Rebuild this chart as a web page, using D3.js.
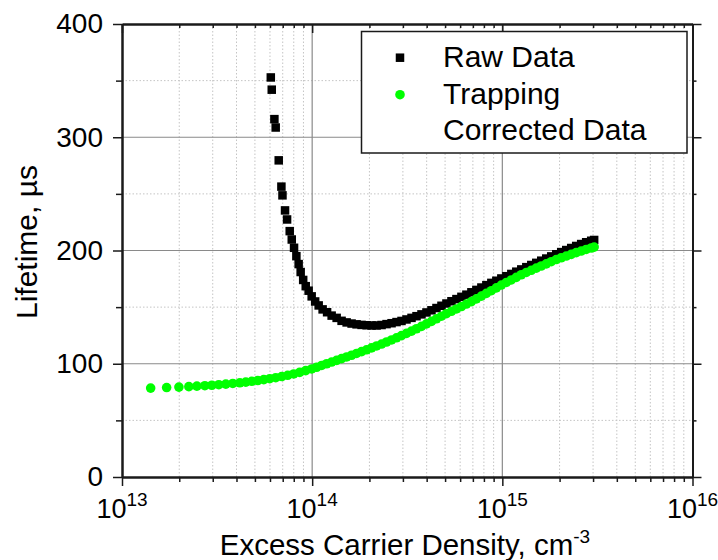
<!DOCTYPE html>
<html>
<head>
<meta charset="utf-8">
<script src="https://cdn.jsdelivr.net/npm/d3@7"></script>
<style>
  body { margin: 0; background: #fff; }
  text { font-family: "Liberation Sans", Arial, sans-serif; fill: #000; }
</style>
</head>
<body>
<script>
// raw lifetime data (black squares)
const rawDensity = [6.06e13, 6.13e13, 6.33e13, 6.43e13, 6.67e13, 6.89e13, 6.98e13, 7.20e13, 7.38e13, 7.62e13,
  7.81e13, 8.03e13, 8.26e13, 8.49e13, 8.70e13, 8.97e13, 9.25e13, 9.58e13, 9.94e13, 1.037e14,
  1.082e14, 1.135e14, 1.198e14, 1.266e14, 1.345e14, 1.428e14, 1.518e14, 1.612e14, 1.712e14, 1.819e14,
  1.933e14, 2.053e14, 2.181e14, 2.317e14, 2.461e14, 2.615e14, 2.777e14, 2.950e14, 3.134e14, 3.330e14,
  3.537e14, 3.757e14, 3.990e14, 4.240e14, 4.504e14, 4.785e14, 5.082e14, 5.400e14, 5.736e14, 6.093e14,
  6.471e14, 6.876e14, 7.303e14, 7.759e14, 8.241e14, 8.755e14, 9.301e14, 9.88e14, 1.050e15, 1.115e15,
  1.184e15, 1.258e15, 1.337e15, 1.420e15, 1.508e15, 1.602e15, 1.702e15, 1.808e15, 1.921e15, 2.040e15,
  2.168e15, 2.303e15, 2.446e15, 2.598e15, 2.760e15, 2.933e15, 3.04e15];
const rawLifetime = [352.8, 342, 316, 308.6, 279.6, 256.4, 248.7, 235.4, 227.4, 217.1,
  209.7, 202.4, 195, 188, 181, 174, 168.5, 164.5, 159.5, 155,
  151.5, 148, 145.5, 142.5, 140.5, 137.9, 136.5, 135.5, 134.8, 134.3,
  134, 133.8, 133.8, 134.2, 135, 135.8, 136.8, 137.8, 139.1, 140.5,
  142, 143.6, 145.3, 147.2, 149.2, 151.2, 153.2, 155.2, 157.1, 159.1,
  161, 163.1, 165.2, 167.3, 169.4, 171.4, 173.3, 175.3, 177.3, 179.3,
  181.3, 183.3, 185.3, 187.2, 189.1, 191, 192.9, 194.8, 196.7, 198.6,
  200.4, 202.2, 204, 205.7, 207.3, 208.6, 209.3];

// trapping corrected data (green circles)
const corrDensity = [1.415e13, 1.717e13, 1.992e13, 2.247e13, 2.476e13, 2.727e13, 2.968e13, 3.229e13, 3.515e13, 3.825e13,
  4.163e13, 4.476e13, 4.812e13, 5.176e13, 5.566e13, 5.983e13, 6.434e13, 6.918e13, 7.437e13, 7.996e13,
  8.596e13, 9.244e13, 9.94e13, 1.056e14, 1.122e14, 1.192e14, 1.266e14, 1.345e14, 1.428e14, 1.518e14,
  1.612e14, 1.712e14, 1.819e14, 1.933e14, 2.053e14, 2.181e14, 2.317e14, 2.461e14, 2.615e14, 2.777e14,
  2.950e14, 3.134e14, 3.330e14, 3.537e14, 3.757e14, 3.990e14, 4.240e14, 4.504e14, 4.785e14, 5.082e14,
  5.400e14, 5.736e14, 6.093e14, 6.471e14, 6.876e14, 7.303e14, 7.759e14, 8.241e14, 8.755e14, 9.301e14,
  9.88e14, 1.050e15, 1.115e15, 1.184e15, 1.258e15, 1.337e15, 1.420e15, 1.508e15, 1.602e15, 1.702e15,
  1.808e15, 1.921e15, 2.040e15, 2.168e15, 2.303e15, 2.446e15, 2.598e15, 2.760e15, 2.933e15, 3.04e15];
const corrLifetime = [78.5, 79, 79.4, 79.8, 80.2, 80.6, 81, 81.5, 82, 82.6,
  83.2, 83.8, 84.5, 85.2, 86, 86.8, 87.7, 88.7, 89.8, 91,
  92.4, 93.9, 95.4, 96.9, 98.5, 100, 101.5, 103, 104.5, 106,
  107.5, 109.1, 110.7, 112.3, 114, 115.7, 117.4, 119.2, 121, 122.9,
  124.8, 126.8, 128.8, 130.9, 133, 135.2, 137.4, 139.7, 142, 144.2,
  146.3, 148.4, 150.5, 152.7, 154.9, 157.3, 159.7, 162.1, 164.5, 167,
  169.5, 171.8, 174, 176.3, 178.6, 180.6, 182.5, 184.4, 186.3, 188.2,
  190.1, 192, 193.6, 195.1, 196.6, 198.1, 199.5, 200.9, 202.2, 203];

const yTicks = [0, 100, 200, 300, 400];
const yMinorTicks = [50, 150, 250, 350];
const xTickExps = [13, 14, 15, 16];
const legendLabels = ["Raw Data", "Trapping", "Corrected Data"];

const width = 718, height = 560;
const plotL = 122, plotR = 692.5, plotT = 24, plotB = 477;

const svg = d3.select('body').append('svg')
  .attr('width', width)
  .attr('height', height);

const x = d3.scaleLog().domain([1e13, 1e16]).range([plotL, plotR]);
const y = d3.scaleLinear().domain([0, 400]).range([plotB, plotT]);

const xMajor = xTickExps.map(e => Math.pow(10, e));
const xMinor = x.ticks().filter(d => !xMajor.some(m => Math.abs(m - d) / m < 1e-6));

// grid: minor dotted, major solid
const grid = svg.append('g');
grid.selectAll('.vminor').data(xMinor).join('line')
  .attr('x1', d => x(d)).attr('x2', d => x(d))
  .attr('y1', plotT).attr('y2', plotB)
  .attr('stroke', '#c4c4c4').attr('stroke-width', 1).attr('stroke-dasharray', '1.5,2');
grid.selectAll('.hminor').data(yMinorTicks).join('line')
  .attr('x1', plotL).attr('x2', plotR)
  .attr('y1', d => y(d)).attr('y2', d => y(d))
  .attr('stroke', '#c4c4c4').attr('stroke-width', 1).attr('stroke-dasharray', '1.5,2');
grid.selectAll('.vmajor').data(xMajor.slice(1, -1)).join('line')
  .attr('x1', d => x(d)).attr('x2', d => x(d))
  .attr('y1', plotT).attr('y2', plotB)
  .attr('stroke', '#8a8a8a').attr('stroke-width', 1.2);
grid.selectAll('.hmajor').data(yTicks.slice(1, -1)).join('line')
  .attr('x1', plotL).attr('x2', plotR)
  .attr('y1', d => y(d)).attr('y2', d => y(d))
  .attr('stroke', '#8a8a8a').attr('stroke-width', 1.2);

// axes
function styleAxis(g) {
  g.select('.domain').attr('stroke', '#1a1a1a').attr('stroke-width', 2);
  g.selectAll('.tick line').attr('stroke', '#1a1a1a').attr('stroke-width', 1.5);
}

svg.append('g').attr('transform', `translate(0,${plotB})`)
  .call(d3.axisBottom(x).tickValues(xMinor).tickSize(5).tickSizeOuter(0).tickFormat(''))
  .call(styleAxis);
svg.append('g').attr('transform', `translate(0,${plotB})`)
  .call(d3.axisBottom(x).tickValues(xMajor).tickSize(9).tickSizeOuter(0).tickFormat(''))
  .call(styleAxis);
svg.append('g').attr('transform', `translate(0,${plotT})`)
  .call(d3.axisBottom(x).tickValues(xMinor).tickSize(4).tickSizeOuter(0).tickFormat(''))
  .call(styleAxis);
svg.append('g').attr('transform', `translate(0,${plotT})`)
  .call(d3.axisBottom(x).tickValues(xMajor).tickSize(9).tickSizeOuter(0).tickFormat(''))
  .call(styleAxis);

svg.append('g').attr('transform', `translate(${plotL},0)`)
  .call(d3.axisLeft(y).tickValues(yMinorTicks).tickSize(6).tickSizeOuter(0).tickFormat(''))
  .call(styleAxis);
const yAxis = svg.append('g').attr('transform', `translate(${plotL},0)`)
  .call(d3.axisLeft(y).tickValues(yTicks).tickSize(9).tickSizeOuter(0).tickPadding(10))
  .call(styleAxis);
yAxis.selectAll('.tick text')
  .style('font-family', '"Liberation Sans", Arial, sans-serif')
  .style('font-size', '28px').attr('fill', '#000');
svg.append('g').attr('transform', `translate(${plotR},0)`)
  .call(d3.axisLeft(y).tickValues(yMinorTicks).tickSize(-4).tickSizeOuter(0).tickFormat(''))
  .call(styleAxis);
svg.append('g').attr('transform', `translate(${plotR},0)`)
  .call(d3.axisLeft(y).tickValues(yTicks).tickSize(-9).tickSizeOuter(0).tickFormat(''))
  .call(styleAxis);

// x tick labels 10^n
const xl = svg.append('g').selectAll('text').data(xTickExps).join('text')
  .attr('x', d => x(Math.pow(10, d)))
  .attr('y', 518)
  .attr('text-anchor', 'middle');
xl.append('tspan').style('font-size', '27px').text('10');
xl.append('tspan').style('font-size', '19px').attr('dy', -12).text(d => d);

// axis titles
const xt = svg.append('text')
  .attr('x', 405).attr('y', 555)
  .attr('text-anchor', 'middle')
  .style('font-size', '29.5px');
xt.append('tspan').text('Excess Carrier Density, cm');
xt.append('tspan').attr('dy', -12).style('font-size', '19px').text('-3');

svg.append('text')
  .attr('transform', 'translate(37,242) rotate(-90)')
  .attr('text-anchor', 'middle')
  .style('font-size', '30px')
  .text('Lifetime, µs');

// data
const raw = rawDensity.map((d, i) => ({n: d, t: rawLifetime[i]}));
const corr = corrDensity.map((d, i) => ({n: d, t: corrLifetime[i]}));
const sq = 8.5;

svg.append('g').selectAll('rect').data(raw).join('rect')
  .attr('x', d => x(d.n) - sq / 2)
  .attr('y', d => y(d.t) - sq / 2)
  .attr('width', sq).attr('height', sq)
  .attr('fill', '#000');

svg.append('g').selectAll('circle').data(corr).join('circle')
  .attr('cx', d => x(d.n))
  .attr('cy', d => y(d.t))
  .attr('r', 4.8)
  .attr('fill', '#00ff00');

// legend
const lg = svg.append('g');
lg.append('rect')
  .attr('x', 361.5).attr('y', 31.5)
  .attr('width', 325.5).attr('height', 121.5)
  .attr('fill', '#fff').attr('stroke', '#1a1a1a').attr('stroke-width', 1.5);
lg.append('rect')
  .attr('x', 400 - sq / 2).attr('y', 57.7 - sq / 2)
  .attr('width', sq).attr('height', sq).attr('fill', '#000');
lg.append('circle')
  .attr('cx', 400).attr('cy', 94.7).attr('r', 4.8).attr('fill', '#00ff00');
lg.selectAll('text').data(legendLabels).join('text')
  .attr('x', 443)
  .attr('y', (d, i) => 67 + i * 36.5)
  .style('font-size', '30px')
  .text(d => d);
</script>
</body>
</html>
